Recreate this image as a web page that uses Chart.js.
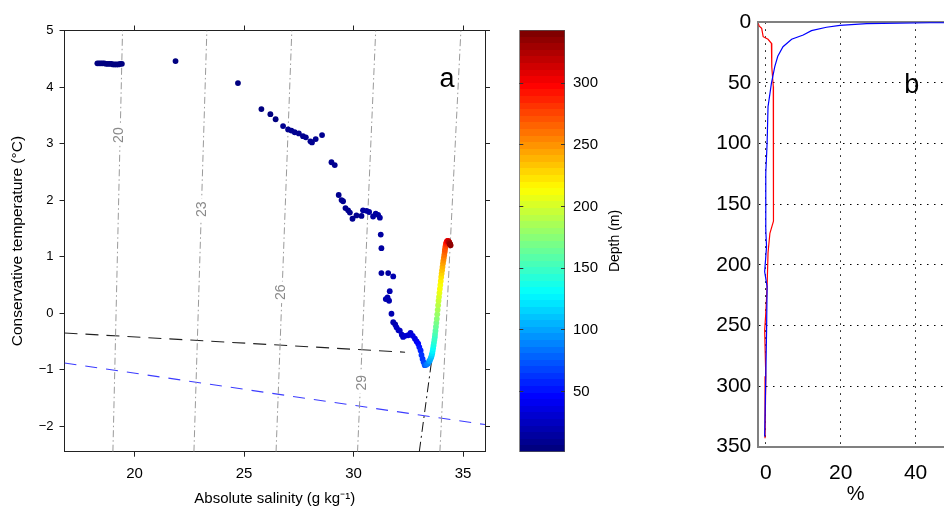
<!DOCTYPE html>
<html>
<head>
<meta charset="utf-8">
<script src="https://cdn.jsdelivr.net/npm/chart.js@4"></script>
<style>
html, body { margin: 0; padding: 0; background: #fff; overflow: hidden; width: 944px; height: 506px; }
.box { position: absolute; top: 0; height: 512px; }
</style>
</head>
<body>
<div class="box" style="left:0;width:500px"><canvas id="tsChart"></canvas></div>
<div class="box" style="left:505px;width:140px"><canvas id="barChart"></canvas></div>
<div class="box" style="left:690px;width:270px"><canvas id="pctChart"></canvas></div>
<script>
// ---- panel a: T-S points (salinity g/kg, conservative temperature C, depth m)
const salinity = [18.30,18.38,18.46,18.54,18.62,18.70,18.78,18.86,18.94,19.02,19.10,19.18,19.26,19.34,19.42,
  21.87,24.72,25.79,26.20,26.44,26.78,27.01,27.16,27.31,27.50,27.69,27.82,28.03,28.10,28.27,28.56,
  28.99,29.14,29.32,29.45,29.52,29.63,29.75,29.83,29.95,30.13,30.36,30.43,30.59,30.71,30.89,31.01,31.12,31.20,
  31.24,31.27,31.27,31.58,31.81,31.65,31.47,31.62,31.55,31.73,31.81,31.90,31.96,32.05,32.11,32.20,32.26,32.35,
  32.49,32.60,32.70,32.80,32.88,32.95,33.00,33.06,33.10,33.15,33.20,33.25,33.32,33.40,33.45,
  33.48,33.52,33.55,33.57,33.59,33.61,33.63,33.65,33.67,33.69,33.71,33.72,33.74,33.76,33.78,33.80,33.82,33.84,
  33.86,33.88,33.90,33.92,33.94,33.96,33.98,34.00,34.02,34.04,34.06,34.08,34.10,34.12,34.14,34.16,34.17,34.19,
  34.20,34.22,34.23,34.25,34.27,34.29,34.31,34.33,34.35,34.37,34.39,34.41,34.43];
const temperature = [4.42,4.42,4.42,4.42,4.42,4.41,4.41,4.41,4.41,4.40,4.40,4.40,4.40,4.41,4.41,
  4.46,4.07,3.61,3.52,3.43,3.31,3.25,3.23,3.20,3.18,3.13,3.11,3.04,3.02,3.08,3.15,
  2.67,2.62,2.09,2.00,1.98,1.86,1.82,1.78,1.67,1.73,1.72,1.82,1.81,1.79,1.71,1.76,1.74,1.69,
  1.39,1.15,0.71,0.71,0.65,0.39,0.25,0.22,0.28,-0.01,-0.16,-0.20,-0.25,-0.30,-0.31,-0.38,-0.42,-0.40,
  -0.39,-0.35,-0.40,-0.45,-0.50,-0.54,-0.60,-0.66,-0.74,-0.81,-0.87,-0.92,-0.91,-0.89,-0.85,
  -0.84,-0.80,-0.77,-0.74,-0.71,-0.67,-0.62,-0.57,-0.52,-0.47,-0.42,-0.37,-0.31,-0.24,-0.17,-0.10,-0.02,0.06,
  0.14,0.22,0.29,0.36,0.43,0.50,0.57,0.64,0.70,0.76,0.82,0.88,0.93,0.98,1.03,1.08,1.12,1.16,
  1.19,1.22,1.24,1.26,1.27,1.28,1.28,1.27,1.26,1.25,1.23,1.22,1.20];
const depth = [1,1,1,1,1,1,1,1,1,1,1,1,1,1,1,
  2,2,3,3,3,4,4,4,4,5,5,5,5,5,6,6,
  6,6,7,7,7,8,8,8,9,9,9,10,10,10,11,11,11,12,
  12,13,14,14,15,15,16,16,16,17,18,19,20,21,22,23,24,26,
  28,30,33,36,40,44,48,53,58,63,68,74,80,87,94,
  100,105,110,115,120,125,130,135,140,145,150,155,160,165,170,175,180,185,
  190,195,200,205,210,215,220,225,230,235,240,245,250,255,260,265,270,275,
  280,285,290,295,300,305,310,315,320,325,330,335,340];

// isopycnals (sigma labels) : salinity where each crosses the top and bottom of the plot
const isoLabels = ['20', '23', '26', '29', ''];
const isoTopS = [19.45, 23.30, 27.18, 31.01, 34.90];
const isoBotS = [19.01, 22.71, 26.46, 30.18, 33.94];
const isoLabelS = [19.27, 23.05, 26.63, 30.33];
const isoLabelT = [3.15, 1.84, 0.37, -1.23];

// dashed reference lines
const freezeS = [16.8, 36.0];
const freezeT = [-0.88, -1.97];
const blackS = [16.8, 32.35];
const blackT = [-0.35, -0.69];
const mixS = [33.0, 33.56];
const mixT = [-2.45, -0.85];

const salTicks = [20, 25, 30, 35];
const tempTicks = [-2, -1, 0, 1, 2, 3, 4, 5];

// ---- colour bar
const depthRange = [1, 343];
const cbarTicks = [50, 100, 150, 200, 250, 300];

// ---- panel b: percentage profiles
const blueDepth = [0, 0.3, 1.1, 2.5, 4.1, 6.9, 10.5, 14, 20.1, 28, 36.6, 50.3, 69.6, 100, 124.5, 171, 185, 205.7, 218, 256.5, 292, 341.7];
const bluePct = [80, 43.9, 26.9, 19.8, 16.2, 12.2, 10.0, 6.9, 4.6, 3.2, 2.4, 1.5, 0.6, 0.35, 0, 0, 0.2, -0.3, 0.35, 0.2, 0, -0.3];
const redDepth = [1, 3, 5, 11.9, 14, 17.3, 36.6, 53, 90, 164, 174, 190, 218, 240, 254, 292, 343];
const redPct = [-2.0, -1.8, -1.1, -0.7, 0.6, 1.5, 1.6, 2.0, 2.1, 2.0, 1.1, 0.6, 0.35, 0, -0.3, 0, -0.2];
const pctTicks = [0, 20, 40];
const depthTicks = [0, 50, 100, 150, 200, 250, 300, 350];

const FONT = '"Liberation Sans", Arial, Helvetica, sans-serif';
Chart.defaults.font.family = FONT;
Chart.defaults.color = '#000';
Chart.defaults.animation = false;
Chart.defaults.plugins.legend.display = false;
Chart.defaults.plugins.tooltip.enabled = false;

// matlab jet, 64 levels
function jet(v) {
  v = Math.max(0, Math.min(1, v));
  v = Math.round(v * 63) / 63;
  const c = x => Math.round(255 * Math.max(0, Math.min(1, x)));
  return 'rgb(' + c(1.5 - Math.abs(4 * v - 3)) + ',' + c(1.5 - Math.abs(4 * v - 2)) + ',' + c(1.5 - Math.abs(4 * v - 1)) + ')';
}
const depthColor = d => jet((d - depthRange[0]) / (depthRange[1] - depthRange[0]));
const setTicks = arr => scale => { scale.ticks = arr.map(v => ({ value: v })); };
const minus = v => v < 0 ? '\u2212' + Math.abs(v) : String(v);
const pts = (xs, ys) => xs.map((x, i) => ({ x: x, y: ys[i] }));

// ---------------- panel a
const lineSets = [];
isoTopS.forEach((s, i) => {
  lineSets.push({
    data: [{ x: isoBotS[i], y: -2.45 }, { x: s, y: 5 }],
    showLine: true, pointRadius: 0, borderColor: '#9a9a9a', borderWidth: 1,
    borderDash: [7, 3, 1.5, 3], order: 2
  });
});
lineSets.push({ data: pts(blackS, blackT), showLine: true, pointRadius: 0, borderColor: '#222', borderWidth: 1.1, borderDash: [13, 8], order: 2 });
lineSets.push({ data: pts(freezeS, freezeT), showLine: true, pointRadius: 0, borderColor: '#3c3cff', borderWidth: 1.1, borderDash: [12, 9], order: 2 });
lineSets.push({ data: pts(mixS, mixT), showLine: true, pointRadius: 0, borderColor: '#111', borderWidth: 1, borderDash: [10, 4, 2, 4], order: 2 });

const tsLabels = {
  id: 'tsLabels',
  beforeDatasetDraw(chart, args) {
    if (args.index !== 0) return;
    const { ctx, scales: { x, y } } = chart;
    ctx.save();
    ctx.font = '14px ' + FONT;
    ctx.textAlign = 'center';
    ctx.textBaseline = 'middle';
    isoLabelS.forEach((s, i) => {
      ctx.save();
      ctx.translate(x.getPixelForValue(s), y.getPixelForValue(isoLabelT[i]));
      ctx.rotate(-Math.PI / 2);
      const w = ctx.measureText(isoLabels[i]).width;
      ctx.fillStyle = '#fff';
      ctx.fillRect(-w / 2 - 3, -6, w + 6, 12);
      ctx.fillStyle = '#8a8a8a';
      ctx.fillText(isoLabels[i], 0, 1);
      ctx.restore();
    });
    ctx.font = '27px ' + FONT;
    ctx.textBaseline = 'alphabetic';
    ctx.fillStyle = '#000';
    ctx.fillText('a', x.getPixelForValue(34.26), y.getPixelForValue(4.0));
    ctx.restore();
  }
};

new Chart(document.getElementById('tsChart'), {
  type: 'scatter',
  data: {
    datasets: [{
      data: pts(salinity, temperature),
      pointBackgroundColor: depth.map(depthColor),
      pointBorderWidth: 0,
      pointRadius: 2.9,
      order: 0
    }].concat(lineSets)
  },
  options: {
    responsive: true,
    maintainAspectRatio: false,
    layout: { padding: 0 },
    scales: {
      x: {
        type: 'linear', position: 'bottom', min: 16.8, max: 36,
        afterBuildTicks: setTicks(salTicks),
        afterFit: s => { s.height = 60.3; },
        grid: { drawOnChartArea: false, tickLength: 5, color: '#222' },
        border: { color: '#222' },
        ticks: { font: { size: 15 }, padding: 8, maxRotation: 0 },
        title: { display: true, text: 'Absolute salinity (g kg\u207B\u00B9)', font: { size: 15 }, padding: { bottom: 4 } }
      },
      x2: {
        type: 'linear', position: 'top', min: 16.8, max: 36,
        afterBuildTicks: setTicks(salTicks),
        afterFit: s => { s.height = 30.5; },
        grid: { drawOnChartArea: false, tickLength: 5, color: '#222' },
        border: { color: '#222' },
        ticks: { display: false }
      },
      y: {
        type: 'linear', position: 'left', min: -2.45, max: 5,
        afterBuildTicks: setTicks(tempTicks),
        afterFit: s => { s.width = 64.5; },
        grid: { drawOnChartArea: false, tickLength: 5, color: '#222' },
        border: { color: '#222' },
        ticks: { font: { size: 13 }, padding: 6, callback: minus },
        title: { display: true, text: 'Conservative temperature (\u00B0C)', font: { size: 15.5 }, padding: { top: 8.7 } }
      },
      y2: {
        type: 'linear', position: 'right', min: -2.45, max: 5,
        afterBuildTicks: setTicks(tempTicks),
        afterFit: s => { s.width = 15; },
        grid: { drawOnChartArea: false, tickLength: 5, color: '#222' },
        border: { color: '#222' },
        ticks: { display: false }
      }
    }
  },
  plugins: [tsLabels]
});

// ---------------- colour bar
const cbarTitle = {
  id: 'cbarTitle',
  afterDraw(chart) {
    const { ctx, chartArea } = chart;
    ctx.save();
    ctx.translate(chartArea.right + 50, (chartArea.top + chartArea.bottom) / 2);
    ctx.rotate(-Math.PI / 2);
    ctx.font = '14px ' + FONT;
    ctx.fillStyle = '#000';
    ctx.textAlign = 'center';
    ctx.textBaseline = 'middle';
    ctx.fillText('Depth (m)', 0, 0);
    ctx.restore();
  }
};

new Chart(document.getElementById('barChart'), {
  type: 'bar',
  data: {
    labels: ['depth'],
    datasets: [{
      data: [depthRange],
      barPercentage: 1,
      categoryPercentage: 1,
      borderWidth: 1,
      borderColor: '#555',
      borderSkipped: false,
      backgroundColor: c => {
        const ch = c.chart;
        if (!ch.chartArea) return '#000';
        const ys = ch.scales.y;
        const g = ch.ctx.createLinearGradient(0, ys.getPixelForValue(depthRange[0]), 0, ys.getPixelForValue(depthRange[1]));
        for (let i = 0; i < 64; i++) {
          const col = jet(i / 63);
          g.addColorStop(i / 64, col);
          g.addColorStop((i + 1) / 64, col);
        }
        return g;
      }
    }]
  },
  options: {
    responsive: true,
    maintainAspectRatio: false,
    layout: { padding: { top: 30, bottom: 60, left: 14.3, right: 0 } },
    scales: {
      x: { display: false },
      y: {
        position: 'right', min: depthRange[0], max: depthRange[1],
        afterBuildTicks: setTicks(cbarTicks),
        afterFit: s => { s.width = 80; },
        grid: { drawOnChartArea: true, drawTicks: false, color: '#333', z: 1 },
        border: { display: false, dash: [4, 37.7] },
        ticks: { font: { size: 15 }, padding: 8 }
      }
    }
  },
  plugins: [cbarTitle]
});

// ---------------- panel b
const bLabel = {
  id: 'bLabel',
  afterDatasetsDraw(chart) {
    const { ctx, scales: { x, y } } = chart;
    ctx.save();
    ctx.font = '27px ' + FONT;
    ctx.fillStyle = '#000';
    ctx.textAlign = 'center';
    ctx.fillText('b', x.getPixelForValue(39), y.getPixelForValue(58));
    ctx.restore();
  }
};
const edgeClear = c => (c.tick && (c.tick.value === 0 || c.tick.value === 350)) ? 'rgba(0,0,0,0)' : '#000';

new Chart(document.getElementById('pctChart'), {
  type: 'scatter',
  data: {
    datasets: [
      { data: pts(bluePct, blueDepth), showLine: true, pointRadius: 0, borderColor: '#0000ff', borderWidth: 1.2, order: 0 },
      { data: pts(redPct, redDepth), showLine: true, pointRadius: 0, borderColor: '#ff0000', borderWidth: 1.2, order: 1 }
    ]
  },
  options: {
    responsive: true,
    maintainAspectRatio: false,
    layout: { padding: { right: 7 } },
    scales: {
      x: {
        type: 'linear', position: 'bottom', min: -2, max: 50,
        afterBuildTicks: setTicks(pctTicks),
        afterFit: s => { s.height = 65.3; },
        grid: { drawTicks: false, color: '#000' },
        border: { color: '#808080', width: 2, dash: [1.5, 5.5] },
        ticks: { font: { size: 21 }, padding: 14, maxRotation: 0 },
        title: { display: true, text: '%', font: { size: 20 }, padding: { bottom: 6 } }
      },
      x2: {
        type: 'linear', position: 'top', min: -2, max: 50,
        afterFit: s => { s.height = 22.3; },
        grid: { drawOnChartArea: false, drawTicks: false },
        border: { color: '#808080', width: 2 },
        ticks: { display: false }
      },
      y: {
        type: 'linear', position: 'left', min: 0, max: 350, reverse: true,
        afterBuildTicks: setTicks(depthTicks),
        afterFit: s => { s.width = 68.3; },
        grid: { drawTicks: false, color: edgeClear },
        border: { color: '#808080', width: 2, dash: [1.5, 5.5] },
        ticks: { font: { size: 21 }, padding: 7 }
      }
    }
  },
  plugins: [bLabel]
});
</script>
</body>
</html>
